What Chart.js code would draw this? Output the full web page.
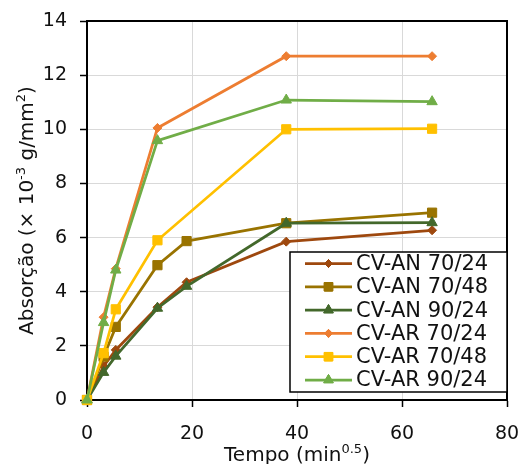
<!DOCTYPE html>
<html><head><meta charset="utf-8">
<script src="https://cdn.jsdelivr.net/npm/chart.js@4"></script>
<style>html,body{margin:0;padding:0;background:#fff;overflow:hidden}</style>
</head><body>
<canvas id="c" width="523" height="464"></canvas>
<script>
// ---- data ----
const timesAN = [0, 3.16, 5.48, 13.42, 18.97, 37.95, 65.73];
const timesAR = [0, 3.16, 5.48, 13.42, 37.95, 65.73];
const seriesNames = ['CV-AN 70/24', 'CV-AN 70/48', 'CV-AN 90/24', 'CV-AR 70/24', 'CV-AR 70/48', 'CV-AR 90/24'];
const cvAN7024 = [0, 1.25, 1.85, 3.43, 4.35, 5.85, 6.27];
const cvAN7048 = [0, 1.6, 2.7, 4.98, 5.87, 6.53, 6.92];
const cvAN9024 = [0, 1.02, 1.62, 3.39, 4.2, 6.53, 6.55];
const cvAR7024 = [0, 3.06, 4.85, 10.05, 12.7, 12.7];
const cvAR7048 = [0, 1.73, 3.35, 5.9, 10.0, 10.02];
const cvAR9024 = [0, 2.86, 4.8, 9.58, 11.08, 11.02];
const xTicks = [0, 20, 40, 60, 80];
const yTicks = [0, 2, 4, 6, 8, 10, 12, 14];

const FONT = "'DejaVu Sans', sans-serif";
const colors = ['#9E480E', '#997300', '#43682B', '#ED7D31', '#FFC000', '#70AD47'];
const styles = ['rectRot', 'rect', 'triangle', 'rectRot', 'rect', 'triangle'];
const radii = [4.5, 6.5, 6, 4.5, 6.5, 6];
const legendRadii = [4, 6, 5.5, 4, 6, 5.5];

function pts(xs, ys) { return xs.map((x, i) => ({ x: x, y: ys[i] })); }
const allSeries = [
  pts(timesAN, cvAN7024), pts(timesAN, cvAN7048), pts(timesAN, cvAN9024),
  pts(timesAR, cvAR7024), pts(timesAR, cvAR7048), pts(timesAR, cvAR9024)
];

const datasets = allSeries.map((d, i) => ({
  label: seriesNames[i],
  data: d,
  borderColor: colors[i],
  backgroundColor: colors[i],
  pointBackgroundColor: colors[i],
  pointBorderColor: colors[i],
  pointBorderWidth: 1,
  pointStyle: styles[i],
  pointRadius: radii[i],
  borderWidth: 2.75,
  tension: 0,
  clip: false,
  order: 5 - i
}));

function drawRich(ctx, segs, x, y, align) {
  const mainF = '20px ' + FONT, supF = '13px ' + FONT;
  let total = 0;
  segs.forEach(s => { ctx.font = s[1] ? supF : mainF; total += ctx.measureText(s[0]).width; });
  let cx = align === 'center' ? x - total / 2 : x;
  ctx.textAlign = 'left';
  ctx.textBaseline = 'alphabetic';
  segs.forEach(s => {
    ctx.font = s[1] ? supF : mainF;
    ctx.fillText(s[0], cx, s[1] ? y - 8 : y);
    cx += ctx.measureText(s[0]).width;
  });
}

const deco = {
  id: 'deco',
  afterDraw(chart) {
    const ctx = chart.ctx, a = chart.chartArea;
    ctx.save();
    ctx.strokeStyle = '#000';
    ctx.lineWidth = 2;
    ctx.beginPath();
    ctx.moveTo(a.left, a.top); ctx.lineTo(a.right, a.top); ctx.lineTo(a.right, a.bottom);
    ctx.stroke();
    ctx.fillStyle = '#111';
    drawRich(ctx, [['Tempo (min', false], ['0.5', true], [')', false]], (a.left + a.right) / 2, 461, 'center');
    ctx.save();
    ctx.translate(33, (a.top + a.bottom) / 2);
    ctx.rotate(-Math.PI / 2);
    drawRich(ctx, [['Absorção (× 10', false], ['-3', true], [' g/mm', false], ['2', true], [')', false]], 0, 0, 'center');
    ctx.restore();
    const lx = 290, ly = 252, lw = a.right - 290, lh = 140;
    ctx.fillStyle = '#fff';
    ctx.fillRect(lx, ly, lw, lh);
    ctx.strokeStyle = '#000';
    ctx.lineWidth = 1.5;
    ctx.strokeRect(lx, ly, lw, lh);
    chart.data.datasets.forEach((ds, i) => {
      const y = 263.5 + i * 23.3;
      ctx.strokeStyle = ds.borderColor;
      ctx.lineWidth = 2.75;
      ctx.beginPath(); ctx.moveTo(305, y); ctx.lineTo(352, y); ctx.stroke();
      ctx.fillStyle = ds.borderColor;
      ctx.lineWidth = 1;
      Chart.helpers.drawPoint(ctx, { pointStyle: ds.pointStyle, radius: legendRadii[i], rotation: 0, borderWidth: 1 }, 328.5, y);
      ctx.fill();
      ctx.stroke();
      ctx.fillStyle = '#111';
      ctx.font = '21px ' + FONT;
      ctx.textAlign = 'left';
      ctx.textBaseline = 'middle';
      ctx.fillText(ds.label, 356, y + 1);
    });
    ctx.restore();
  }
};

new Chart(document.getElementById('c'), {
  type: 'line',
  data: { datasets: datasets },
  plugins: [deco],
  options: {
    responsive: false,
    animation: false,
    devicePixelRatio: 1,
    layout: { padding: { top: 21, right: 16, left: 0, bottom: 0 } },
    plugins: { legend: { display: false }, tooltip: { enabled: false } },
    scales: {
      x: {
        type: 'linear', min: 0, max: 80,
        afterBuildTicks: s => { s.ticks = xTicks.map(v => ({ value: v })); },
        afterFit: s => { s.height = 64; s.paddingLeft = 0; s.paddingRight = 0; },
        grid: { color: '#d9d9d9', lineWidth: 1, tickColor: '#000', tickLength: 7, tickWidth: 1.5 },
        border: { color: '#000', width: 2 },
        ticks: { color: '#111', font: { family: FONT, size: 19 }, padding: 16, maxRotation: 0 }
      },
      y: {
        type: 'linear', min: 0, max: 14,
        afterBuildTicks: s => { s.ticks = yTicks.map(v => ({ value: v })); },
        afterFit: s => { s.width = 87; s.paddingTop = 0; s.paddingBottom = 0; },
        grid: { color: '#d9d9d9', lineWidth: 1, tickColor: '#000', tickLength: 7, tickWidth: 1.5 },
        border: { color: '#000', width: 2 },
        ticks: { color: '#111', font: { family: FONT, size: 19 }, padding: 13 }
      }
    }
  }
});
</script>
</body></html>
